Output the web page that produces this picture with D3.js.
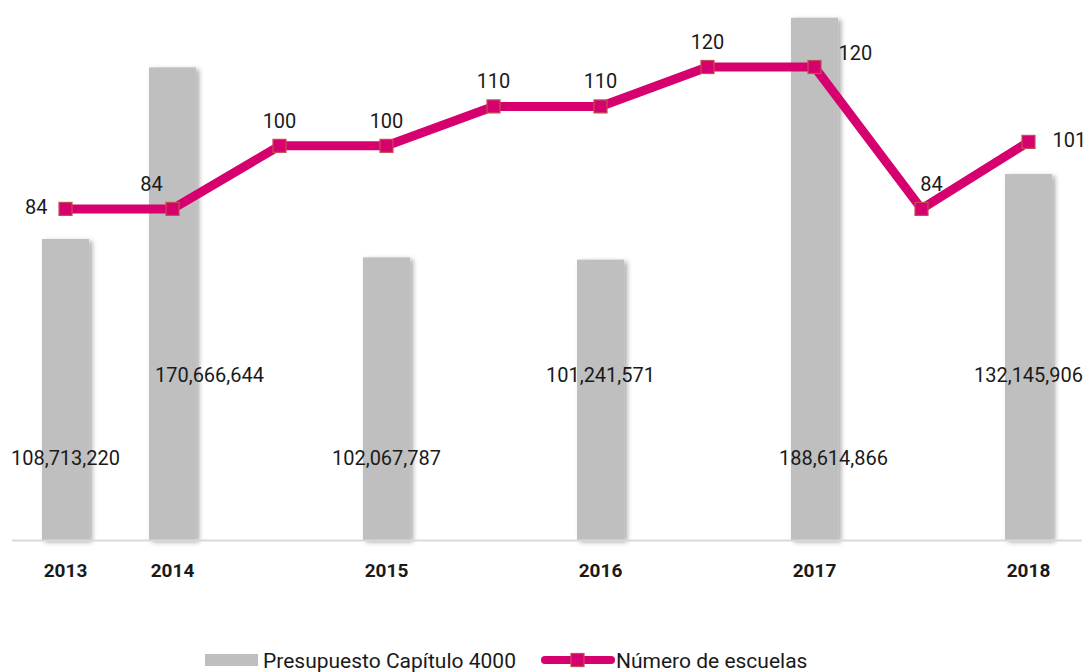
<!DOCTYPE html>
<html>
<head>
<meta charset="utf-8">
<script src="https://cdn.jsdelivr.net/npm/d3@7"></script>
<style>
  body { margin: 0; background: #fff; }
  text { font-family: Roboto, "DejaVu Sans", sans-serif; fill: #1a1a1a; }
</style>
</head>
<body>
<div id="chart"></div>
<script>
// slots along the x axis (bars sit on every other slot from 2014 on)
var slots = ["s0", "s1", "s2", "s3", "s4", "s5", "s6", "s7", "s8", "s9"];
var yearLabels = ["2013", "2014", "", "2015", "", "2016", "", "2017", "", "2018"];

var barSlots = ["s0", "s1", "s3", "s5", "s7", "s9"];
var budget = [108713220, 170666644, 102067787, 101241571, 188614866, 132145906];

var schools = [84, 84, 100, 100, 110, 110, 120, 120, 84, 101];
var schoolLabelPos = ["left", "top", "top", "top", "top", "top", "top", "right", "top", "right"];

var width = 1087, height = 672;
var margin = {left: 12, right: 5, top: 0, bottom: 132};
var baseY = height - margin.bottom;
var fs = "20px";

var svg = d3.select("#chart").append("svg")
    .attr("width", width)
    .attr("height", height);

var defs = svg.append("defs");
var shadow = defs.append("filter")
    .attr("id", "shadow")
    .attr("x", "-30%").attr("y", "-10%")
    .attr("width", "160%").attr("height", "130%");
shadow.append("feDropShadow")
    .attr("dx", 3).attr("dy", 2)
    .attr("stdDeviation", 2.5)
    .attr("flood-color", "#000")
    .attr("flood-opacity", 0.35);

var x = d3.scaleBand()
    .domain(slots)
    .range([margin.left, margin.left + 1070])
    .paddingInner(0.56)
    .paddingOuter(0.28);

var yBar = d3.scaleLinear().domain([0, 195000000]).range([baseY, 0]);
var yLine = d3.scaleLinear().domain([0, 137]).range([baseY, 0]);

var cx = function(s) { return x(s) + x.bandwidth() / 2; };

// bars
svg.append("g").selectAll("rect")
    .data(budget)
    .join("rect")
    .attr("x", function(d, i) { return x(barSlots[i]); })
    .attr("y", function(d) { return yBar(d); })
    .attr("width", x.bandwidth())
    .attr("height", function(d) { return baseY - yBar(d); })
    .attr("fill", "#bfbfbf")
    .attr("filter", "url(#shadow)");

// axis line
svg.append("line")
    .attr("x1", margin.left).attr("x2", width - margin.right)
    .attr("y1", baseY + 0.5).attr("y2", baseY + 0.5)
    .attr("stroke", "#d9d9d9")
    .attr("stroke-width", 2);

// bar labels, alternating low / high
var labelShift = [0, 37, 0, 0, 19, 0];
svg.append("g").selectAll("text")
    .data(budget)
    .join("text")
    .attr("x", function(d, i) { return cx(barSlots[i]) + labelShift[i]; })
    .attr("y", function(d, i) { return yBar(i % 2 === 0 ? 29500000 : 59500000) + 7; })
    .attr("text-anchor", "middle")
    .style("font-size", fs)
    .text(function(d) { return d3.format(",")(d); });

// year labels
svg.append("g").selectAll("text")
    .data(slots)
    .join("text")
    .attr("x", function(d) { return cx(d); })
    .attr("y", baseY + 37)
    .attr("text-anchor", "middle")
    .style("font-size", "19px")
    .style("font-weight", "bold")
    .text(function(d, i) { return yearLabels[i]; });

// line
var line = d3.line()
    .x(function(d, i) { return cx(slots[i]); })
    .y(function(d) { return yLine(d); });

svg.append("path")
    .datum(schools)
    .attr("d", line)
    .attr("fill", "none")
    .attr("stroke", "#d6006f")
    .attr("stroke-width", 9)
    .attr("stroke-linejoin", "round");

svg.append("g").selectAll("rect")
    .data(schools)
    .join("rect")
    .attr("x", function(d, i) { return cx(slots[i]) - 6.5; })
    .attr("y", function(d) { return yLine(d) - 6.5; })
    .attr("width", 13)
    .attr("height", 13)
    .attr("fill", "#d6006f")
    .attr("stroke", "#c0504d")
    .attr("stroke-width", 1.2);

svg.append("g").selectAll("text")
    .data(schools)
    .join("text")
    .attr("x", function(d, i) {
        var p = schoolLabelPos[i], px = cx(slots[i]);
        if (p === "left") return px - 18;
        if (p === "right") return px + 24;
        return px + (i === 1 ? -21 : i === 8 ? 10 : 0);
    })
    .attr("y", function(d, i) {
        var p = schoolLabelPos[i], py = yLine(d);
        if (p === "top") return py - 18;
        if (i === 7) return py - 7;
        return py + 5;
    })
    .attr("text-anchor", function(d, i) {
        var p = schoolLabelPos[i];
        return p === "left" ? "end" : p === "right" ? "start" : "middle";
    })
    .style("font-size", fs)
    .text(function(d) { return d; });

// legend
var ly = 660;
svg.append("rect")
    .attr("x", 205).attr("y", ly - 6)
    .attr("width", 53).attr("height", 12)
    .attr("fill", "#bfbfbf");
svg.append("text")
    .attr("x", 263).attr("y", ly + 8)
    .style("font-size", "21px")
    .text("Presupuesto Capítulo 4000");

svg.append("line")
    .attr("x1", 545).attr("x2", 611)
    .attr("y1", ly).attr("y2", ly)
    .attr("stroke", "#d6006f")
    .attr("stroke-width", 8)
    .attr("stroke-linecap", "round");
svg.append("rect")
    .attr("x", 571).attr("y", ly - 6.5)
    .attr("width", 13).attr("height", 13)
    .attr("fill", "#d6006f")
    .attr("stroke", "#c0504d")
    .attr("stroke-width", 1.2);
svg.append("text")
    .attr("x", 616).attr("y", ly + 8)
    .style("font-size", "21px")
    .text("Número de escuelas");
</script>
</body>
</html>
